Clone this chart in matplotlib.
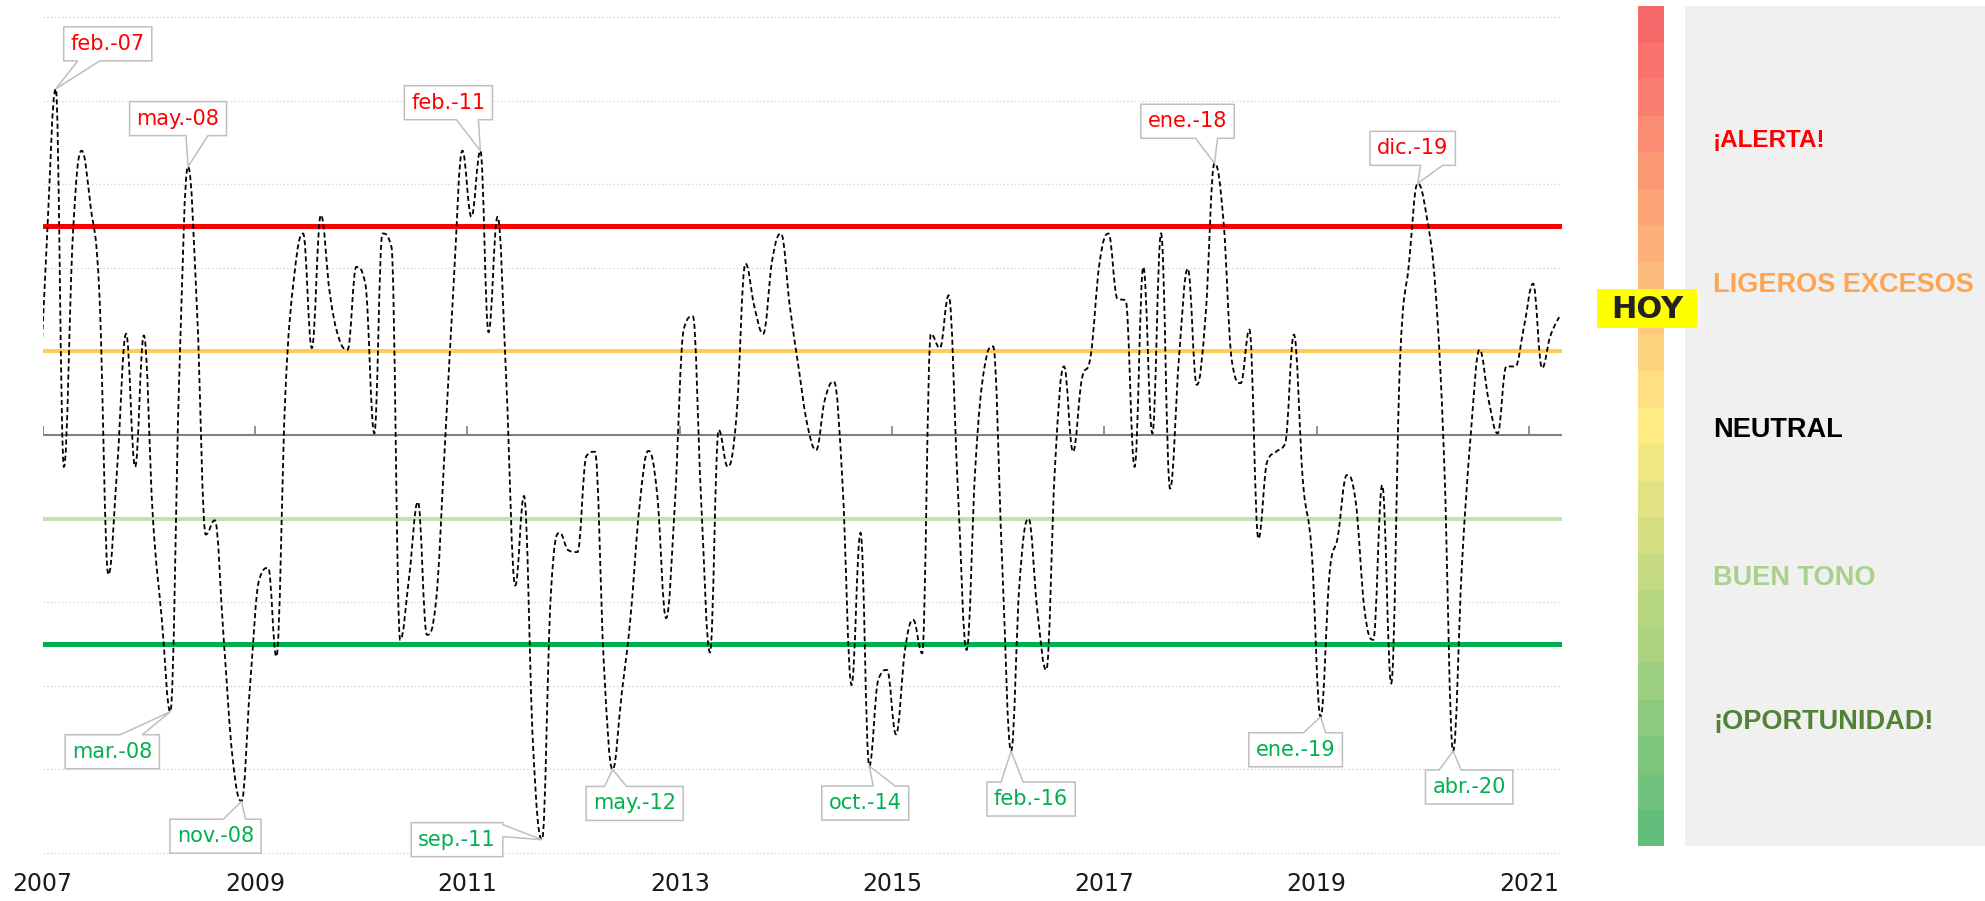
import numpy as np
import pandas as pd
import matplotlib
matplotlib.use('Agg')
import matplotlib.pyplot as plt
import matplotlib.dates as mdates
import matplotlib.transforms as mtransforms
from matplotlib.path import Path
from matplotlib.patches import PathPatch, Rectangle, Polygon
from matplotlib.colors import LinearSegmentedColormap

plt.rcParams['font.family'] = ['DejaVu Sans']

W, H, DPI = 1985, 901, 100

# ---------------- data ----------------
first_month = '2006-12-01'
values = [
    0.0,                                                                 # dic-06
    2.3, 4.14, -0.38, 2.4, 3.40, 2.73, 1.69, -1.67, -0.35, 1.21, -0.38, 1.19,   # 2007
    -0.98, -2.21, -3.31, 0.72, 3.21, 1.49, -1.19, -1.02, -2.45, -3.85, -4.38, -2.97,  # 2008
    -1.73, -1.59, -2.65, 0.5, 1.89, 2.41, 1.04, 2.63, 1.69, 1.17, 1.02, 2.01,   # 2009
    1.81, 0.02, 2.41, 2.25, -2.45, -1.69, -0.80, -2.39, -2.0, -0.18, 1.81, 3.40,  # 2010
    2.61, 3.40, 1.23, 2.61, 0.65, -1.80, -0.73, -3.7, -4.84, -1.93, -1.17, -1.38,  # 2011
    -1.40, -0.25, -0.2, -2.75, -4.0, -3.10, -2.2, -0.87, -0.19, -0.70, -2.19, -0.83,  # 2012
    1.27, 1.42, -0.74, -2.60, 0.06, -0.38, 0.22, 2.05, 1.53, 1.21, 2.09, 2.41,   # 2013
    1.53, 0.78, 0.14, -0.18, 0.42, 0.64, -0.58, -2.99, -1.17, -3.96, -2.93, -2.81,  # 2014
    -3.58, -2.57, -2.21, -2.61, 1.21, 1.04, 1.67, -0.58, -2.57, -0.38, 0.8, 1.06,  # 2015
    -1.5, -3.78, -1.77, -1.0, -2.09, -2.81, -0.38, 0.82, -0.2, 0.66, 0.95, 2.05,  # 2016
    2.41, 1.63, 1.61, -0.38, 2.01, 0.02, 2.41, -0.64, 0.94, 1.99, 0.6, 1.42,     # 2017
    3.25, 2.55, 0.90, 0.62, 1.26, -1.24, -0.32, -0.2, -0.1, 1.20, -0.55, -1.38,  # 2018
    -3.37, -1.65, -1.22, -0.48, -0.78, -2.09, -2.45, -0.6, -2.97, 0.86, 2.05, 3.01,  # 2019
    2.61, 1.70, -0.3, -3.78, -1.57, 0.02, 1.02, 0.42, 0.02, 0.82, 0.82, 1.30,    # 2020
    1.81, 0.80, 1.18, 1.41,                                              # 2021
]
dates = pd.date_range(first_month, periods=len(values), freq='MS') + pd.Timedelta(days=14)

peak_labels = ['feb.-07', 'may.-08', 'feb.-11', 'ene.-18', 'dic.-19']
peak_months = ['2007-02', '2008-05', '2011-02', '2018-01', '2019-12']
trough_labels = ['mar.-08', 'nov.-08', 'sep.-11', 'may.-12', 'oct.-14', 'feb.-16', 'ene.-19', 'abr.-20']
trough_months = ['2008-03', '2008-11', '2011-09', '2012-05', '2014-10', '2016-02', '2019-01', '2020-04']

thresholds = [2.5, 1.0, -1.0, -2.5]
threshold_colors = ['#FF0000', '#FFCC55', '#C5E0B4', '#00B050']

year_ticks = [2007, 2009, 2011, 2013, 2015, 2017, 2019, 2021]

zone_labels = ['¡ALERTA!', 'LIGEROS EXCESOS', 'NEUTRAL', 'BUEN TONO', '¡OPORTUNIDAD!']
zone_colors = ['#FF0000', '#FFA54F', '#000000', '#A9D18E', '#548235']

# ---------------- style / layout ----------------
label_offsets_peak = [(52, 45), (-10, 48), (-32, 48), (-27, 42), (-5, 35)]
label_offsets_trough = [(-58, -40), (-26, -35), (-85, 0), (22, -34), (-4, -37),
                        (20, -48), (-25, -33), (16, -36)]

fig = plt.figure(figsize=(W / DPI, H / DPI), dpi=DPI)

# overlay in pixel coordinates for the side panel
ov = fig.add_axes([0, 0, 1, 1], zorder=0)
ov.set_xlim(0, W)
ov.set_ylim(H, 0)
ov.axis('off')

ax_left, ax_right = 42.7, 1562.0
ax_top, ax_bot = 8.6, 861.4
ax = fig.add_axes([ax_left / W, 1 - ax_bot / H, (ax_right - ax_left) / W, (ax_bot - ax_top) / H],
                  zorder=1)
ax.patch.set_alpha(0)

x0 = pd.Timestamp('2007-01-01')
px_per_day = (1529.0 - 42.7) / (pd.Timestamp('2021-01-01') - x0).days
xmax = x0 + pd.Timedelta(days=(ax_right - ax_left) / px_per_day)
ax.set_xlim(mdates.date2num(x0), mdates.date2num(xmax))
ax.set_ylim(-5.1, 5.1)

# gridlines
for g in [-5, -4, -3, -2, -1, 1, 2, 3, 4, 5]:
    ax.axhline(g, color='#D0D0D0', lw=0.9, linestyle=(0, (1, 2)), zorder=1)

# zero axis with upward tick marks
ax.axhline(0, color='#808080', lw=1.5, zorder=2)
tick_x = [mdates.date2num(pd.Timestamp(f'{y}-01-01')) for y in year_ticks]
ax.vlines(tick_x, 0, 0.11, color='#808080', lw=1.2, zorder=2)

# threshold lines
for yv, c in zip(thresholds, threshold_colors):
    lw = 3.6 if abs(yv) > 2 else 2.9
    ax.axhline(yv, color=c, lw=lw, zorder=3, solid_capstyle='round')


# smooth spline (Highcharts-like cubic Bezier) through the monthly points
def spline_path(xs, ys, smoothing=1.5):
    n = len(xs)
    denom = smoothing + 1
    lc = [(xs[i], ys[i]) for i in range(n)]
    rc = [(xs[i], ys[i]) for i in range(n)]
    for i in range(1, n - 1):
        px, py = xs[i], ys[i]
        lx, ly = xs[i - 1], ys[i - 1]
        nx, ny = xs[i + 1], ys[i + 1]
        lcx = (smoothing * px + lx) / denom
        lcy = (smoothing * py + ly) / denom
        rcx = (smoothing * px + nx) / denom
        rcy = (smoothing * py + ny) / denom
        if rcx != lcx:
            corr = ((rcy - lcy) * (rcx - px)) / (rcx - lcx) + py - rcy
            lcy += corr
            rcy += corr
        if lcy > max(ly, py):
            lcy = max(ly, py)
            rcy = 2 * py - lcy
        elif lcy < min(ly, py):
            lcy = min(ly, py)
            rcy = 2 * py - lcy
        if rcy > max(py, ny):
            rcy = max(py, ny)
            lcy = 2 * py - rcy
        elif rcy < min(py, ny):
            rcy = min(py, ny)
            lcy = 2 * py - rcy
        lc[i] = (lcx, lcy)
        rc[i] = (rcx, rcy)
    verts = [(xs[0], ys[0])]
    codes = [Path.MOVETO]
    for i in range(1, n):
        verts += [rc[i - 1], lc[i], (xs[i], ys[i])]
        codes += [Path.CURVE4] * 3
    return Path(verts, codes)


xs = mdates.date2num(dates)
ys = np.array(values, dtype=float)
patch = PathPatch(spline_path(list(xs), list(ys)), fill=False, ec='black', lw=1.3,
                  linestyle=(0, (2.8, 1.7)), zorder=4)
ax.add_patch(patch)

# annotations (callouts: text + box-with-tail outline)
month_index = {d.strftime('%Y-%m'): i for i, d in enumerate(dates)}
callouts = []


def callout(text, month, color, offset):
    i = month_index[month]
    t = ax.annotate(text, xy=(xs[i], ys[i]), xytext=offset, textcoords='offset pixels',
                    ha='center', va='center', fontsize=15, color=color, zorder=8)
    callouts.append((t, i, offset))


for t, m, o in zip(peak_labels, peak_months, label_offsets_peak):
    callout(t, m, '#FF0000', o)
for t, m, o in zip(trough_labels, trough_months, label_offsets_trough):
    callout(t, m, '#00B050', o)

renderer = fig.canvas.get_renderer()
BOX_H, PAD_X, HALF_BASE, BASE_SHIFT = 34.0, 7.0, 11.0, 19.0
for t, i, (dx, dy) in callouts:
    ext = t.get_window_extent(renderer)
    wbox = ext.width + 2 * PAD_X
    L, R = dx - wbox / 2, dx + wbox / 2
    B, T = dy - BOX_H / 2, dy + BOX_H / 2
    if B > 0:          # point below the box -> tail from the bottom edge
        c = dx + BASE_SHIFT * np.sign(-dx)
        verts = [(L, T), (R, T), (R, B), (c + HALF_BASE, B), (0, 0), (c - HALF_BASE, B), (L, B)]
    elif T < 0:        # point above the box -> tail from the top edge
        c = dx + BASE_SHIFT * np.sign(-dx)
        verts = [(L, B), (R, B), (R, T), (c + HALF_BASE, T), (0, 0), (c - HALF_BASE, T), (L, T)]
    else:              # point to the right of the box
        verts = [(L, B), (L, T), (R, T), (R, T - 2), (0, 0), (R, T - 14), (R, B)]
    poly = Polygon(verts, closed=True, fc='white', ec='#BFBFBF', lw=1.1, zorder=7,
                   joinstyle='miter', clip_on=False,
                   transform=mtransforms.ScaledTranslation(xs[i], ys[i], ax.transData))
    ax.add_patch(poly)

# x axis labels
ax.set_xticks(tick_x)
ax.set_xticklabels([str(y) for y in year_ticks], fontsize=17, color='#1a1a1a')
ax.tick_params(axis='x', length=0, pad=7.5)
ax.set_yticks([])
for s in ax.spines.values():
    s.set_visible(False)

# ---------------- side panel ----------------
cmap = LinearSegmentedColormap.from_list('scale', ['#F8696B', '#FFEB84', '#63BE7B'])
nb = 23
bar_top, bar_bot = 6.0, 846.0
bh = (bar_bot - bar_top) / nb
for k in range(nb):
    ov.add_patch(Rectangle((1638, bar_top + k * bh), 26, bh + 0.3,
                           fc=cmap(k / (nb - 1)), ec='none'))
ov.add_patch(Rectangle((1685, bar_top), 300, bar_bot - bar_top, fc='#F0F0F0', ec='none'))

zone_baselines = [146.7, 292.0, 437.3, 585.0, 729.3]
zone_sizes = [17.5, 19.5, 19.5, 19.5, 19.5]
for t, c, yb, fs in zip(zone_labels, zone_colors, zone_baselines, zone_sizes):
    ov.text(1713, yb, t, color=c, fontsize=fs, fontweight='bold',
            family=['Liberation Sans', 'DejaVu Sans'], ha='left', va='baseline')

ov.add_patch(Rectangle((1597, 289), 100, 39, fc='#FFFF00', ec='none', zorder=3))
ov.text(1647, 318.3, 'HOY', color='#222222', fontsize=22, fontweight='heavy',
        ha='center', va='baseline', zorder=4)

fig.savefig('out.png', dpi=DPI)
